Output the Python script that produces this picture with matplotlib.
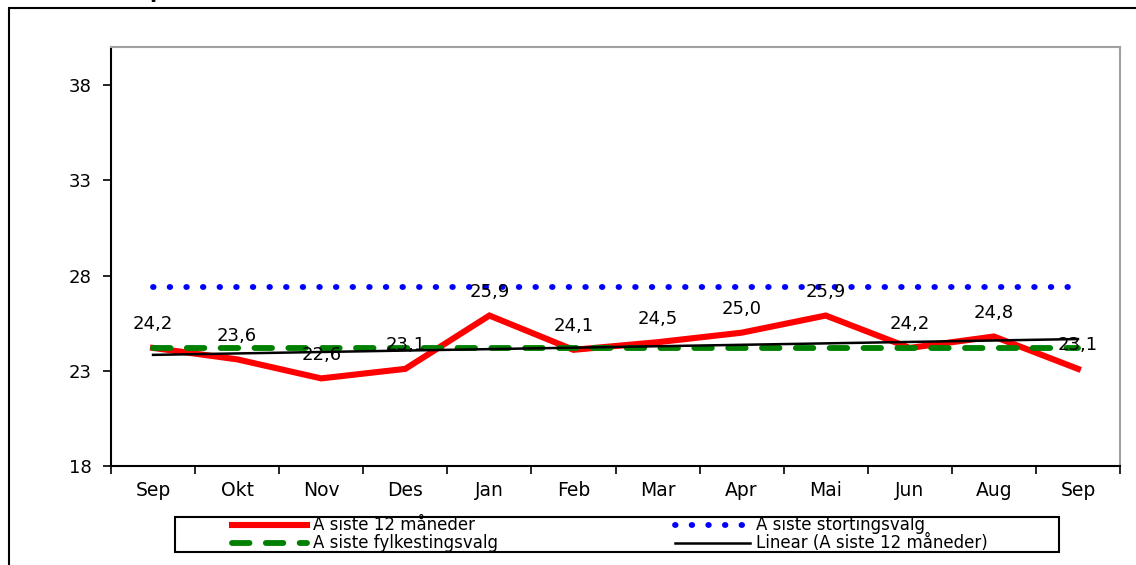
import numpy as np
import matplotlib.pyplot as plt
from matplotlib.patches import Rectangle

plt.rcParams['font.family'] = ['DejaVu Sans']

months = ["Sep", "Okt", "Nov", "Des", "Jan", "Feb", "Mar", "Apr", "Mai", "Jun", "Aug", "Sep"]
siste_12 = [24.2, 23.6, 22.6, 23.1, 25.9, 24.1, 24.5, 25.0, 25.9, 24.2, 24.8, 23.1]
stortingsvalg = [27.4] * 12
fylkestingsvalg = [24.2] * 12

x = np.arange(len(months))
a, b = np.polyfit(x, siste_12, 1)
trend = a * x + b

W, H = 1136, 565
fig = plt.figure(figsize=(W / 100, H / 100), dpi=100)
ax = fig.add_axes([111 / W, 1 - 466 / H, 1009 / W, 419 / H])

# outer frame of the chart (runs off the right/bottom edge)
fig.patches.append(Rectangle((9 / W, -0.1), 1.2, 1.1 - 8 / H, transform=fig.transFigure,
                             fill=False, edgecolor='black', linewidth=1.5))
# cut-off title
fig.text(149 / W, 1 + 2 / H, "p", fontsize=15, fontweight='bold', va='baseline')

l1, = ax.plot(x, siste_12, color='#ff0000', linewidth=4.4, solid_joinstyle='miter',
              label="A siste 12 måneder")
l2, = ax.plot(x, stortingsvalg, color='#0000ff', linewidth=4.2, dashes=(0.1, 2.75),
              dash_capstyle='round', label="A siste stortingsvalg")
l3, = ax.plot(x, fylkestingsvalg, color='#008000', linewidth=4.2, dashes=(3.0, 2.8),
              dash_capstyle='round', label="A siste fylkestingsvalg")
l4, = ax.plot(x, trend, color='black', linewidth=1.8, label="Linear (A siste 12 måneder)")

for xi, v in zip(x, siste_12):
    ax.annotate(f"{v:.1f}".replace(".", ","), (xi, v), xytext=(0, 17), textcoords='offset points',
                ha='center', va='center', fontsize=13)

ax.set_xlim(-0.5, 11.5)
ax.set_ylim(18, 40)
ax.set_yticks([18, 23, 28, 33, 38])
ax.tick_params(axis='y', direction='out', length=6, width=1.2, labelsize=13, pad=8)
ax.set_xticks(np.arange(-0.5, 12, 1))
ax.set_xticklabels([])
ax.set_xticks(x, minor=True)
ax.set_xticklabels(months, minor=True)
ax.tick_params(axis='x', which='major', direction='out', length=6, width=1.2)
ax.tick_params(axis='x', which='minor', length=0, labelsize=13.5, pad=11)

for side in ['left', 'bottom']:
    ax.spines[side].set_color('black')
    ax.spines[side].set_linewidth(1.5)
for side in ['top', 'right']:
    ax.spines[side].set_color('#a0a0a0')
    ax.spines[side].set_linewidth(1.5)

# legend: box plus two columns
fig.patches.append(Rectangle((175 / W, 1 - 552 / H), 884 / W, 35 / H, transform=fig.transFigure,
                             fill=False, edgecolor='black', linewidth=1.5))
leg_kw = dict(loc='center left', fontsize=12, frameon=False, handlelength=4.5,
              handletextpad=0.35, borderpad=0, borderaxespad=0, labelspacing=0,
              handleheight=0.5)
leg1 = fig.legend([l1, l3], [l1.get_label(), l3.get_label()],
                  bbox_to_anchor=(232 / W, 1 - 534 / H), **leg_kw)
leg2 = fig.legend([l2, l4], [l2.get_label(), l4.get_label()],
                  bbox_to_anchor=(675 / W, 1 - 534 / H), **leg_kw)

fig.savefig("out.png", dpi=100)
